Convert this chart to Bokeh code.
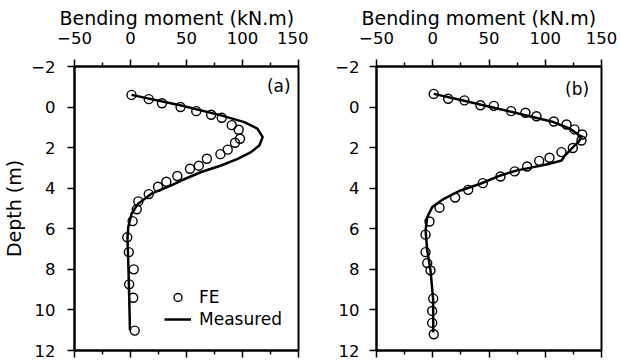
from bokeh.plotting import figure
from bokeh.layouts import row
from bokeh.models import (Range1d, LinearAxis, FixedTicker, Label, Legend, LegendItem,
                          Title)
from bokeh.embed import file_html
from bokeh.resources import INLINE

# Pile bending moment profiles: finite-element results vs field measurements
fe_a_depth = [-0.6, -0.39, -0.19, 0.0, 0.2, 0.38, 0.53, 0.89, 1.12, 1.56, 1.76, 2.1, 2.32,
              2.55, 2.89, 3.04, 3.4, 3.68, 3.93, 4.29, 4.65, 5.04, 5.62, 6.42, 7.15, 8.0,
              8.74, 9.4, 11.02]
fe_a_moment = [0.9, 16.3, 28.1, 44.7, 58.7, 72.0, 81.5, 90.4, 96.6, 97.8, 93.3, 86.8, 80.3,
               68.2, 61.0, 53.1, 41.8, 32.0, 24.6, 16.3, 7.0, 5.6, 1.9, -2.9, -1.5, 2.9,
               -1.2, 2.4, 3.8]

meas_a_depth = [-0.6, -0.08, 0.41, 0.74, 1.07, 1.48, 1.89, 2.22, 2.55, 2.88, 3.2, 3.62,
                3.86, 4.27, 4.76, 5.26, 5.92, 6.5, 8.0, 9.5, 11.0]
meas_a_moment = [0.9, 45.3, 80.9, 101.6, 113.5, 118.0, 115.0, 107.6, 95.7, 80.9, 63.1, 45.3,
                 36.4, 18.7, 6.8, 0.9, -2.0, -2.7, -1.8, -1.1, -0.5]

fe_b_depth = [-0.65, -0.41, -0.33, -0.09, -0.06, 0.2, 0.28, 0.45, 0.71, 0.86, 1.1, 1.35,
              1.65, 2.02, 2.22, 2.5, 2.65, 2.93, 3.17, 3.42, 3.75, 4.08, 4.46, 4.96, 5.64,
              6.29, 7.15, 7.69, 8.05, 9.44, 10.05, 10.64, 11.2]
fe_b_moment = [0.9, 13.7, 28.2, 42.4, 54.3, 69.7, 82.4, 92.2, 107.6, 118.9, 126.0, 132.9,
               132.2, 124.5, 114.4, 103.8, 94.6, 83.9, 72.9, 60.2, 44.5, 31.5, 19.9, 6.0,
               -2.9, -6.4, -6.4, -4.9, -2.0, 0.4, -0.5, -0.5, 0.9]

meas_b_depth = [-0.65, -0.35, 0.03, 0.5, 0.74, 1.07, 1.48, 1.73, 2.05, 2.38, 2.63, 2.79,
                2.96, 3.12, 3.37, 3.78, 4.11, 4.52, 4.93, 5.42, 6.08, 7.06, 8.05, 9.5, 11.1]
meas_b_moment = [0.9, 25.0, 54.3, 89.6, 107.3, 122.0, 132.5, 129.3, 123.4, 117.6, 114.6,
                 104.2, 89.6, 75.0, 60.2, 42.4, 24.7, 9.9, -0.5, -4.9, -6.4, -4.9, -2.0,
                 0.4, 0.4]

x_major = [-50, 0, 50, 100, 150]
x_minor = [-25, 25, 75, 125]
y_ticks = [-2, 0, 2, 4, 6, 8, 10, 12]

FONT = "DejaVu Sans"
TICK_SIZE = "16.5px"
TITLE_SIZE = "19px"
X_TITLE = "Bending moment (kN.m)"


def style_axis(ax):
    ax.axis_line_color = "black"
    ax.axis_line_width = 2
    ax.major_tick_line_color = "black"
    ax.major_tick_line_width = 1.5
    ax.minor_tick_line_color = "black"
    ax.minor_tick_line_width = 1.5
    ax.major_tick_in = 0
    ax.minor_tick_in = 0
    ax.major_label_text_font = FONT
    ax.major_label_text_color = "black"
    ax.axis_label_text_font = FONT
    ax.axis_label_text_font_style = "normal"
    ax.axis_label_text_color = "black"
    ax.major_label_text_font_size = TICK_SIZE


def make_panel(fe_m, fe_d, ms_m, ms_d, tag, tag_x, tag_y, width, border_left,
               border_right, depth_label, y_standoff):
    p = figure(width=width, height=363, output_backend="svg", toolbar_location=None,
               x_range=Range1d(-50, 150), y_range=Range1d(12, -2),
               x_axis_location="above",
               min_border_left=border_left, min_border_right=border_right,
               min_border_top=66, min_border_bottom=13)
    p.grid.visible = False
    p.outline_line_color = "black"
    p.outline_line_width = 2
    p.background_fill_color = "white"
    p.border_fill_color = "white"

    top = p.xaxis[0]
    top.ticker = FixedTicker(ticks=x_major, minor_ticks=x_minor)
    style_axis(top)
    top.major_tick_out = 7
    top.minor_tick_out = 4
    top.major_label_standoff = 16

    # axis title, starting a little left of the frame edge
    p.add_layout(Title(text=X_TITLE, align="left", offset=-15, standoff=0,
                       text_font=FONT, text_font_size=TITLE_SIZE,
                       text_font_style="normal", text_color="black"), "above")

    # tick marks only along the bottom edge
    bottom = LinearAxis(ticker=FixedTicker(ticks=x_major, minor_ticks=x_minor))
    style_axis(bottom)
    bottom.major_label_overrides = {t: "" for t in x_major}
    bottom.major_label_text_font_size = "1px"
    bottom.major_label_standoff = 0
    bottom.major_tick_out = 7
    bottom.minor_tick_out = 4
    p.add_layout(bottom, "below")

    left = p.yaxis[0]
    left.ticker = FixedTicker(ticks=y_ticks, minor_ticks=[])
    style_axis(left)
    left.major_tick_out = 7
    left.major_label_standoff = y_standoff
    if depth_label:
        left.axis_label = "Depth (m)"
        left.axis_label_text_font_size = "19px"
        left.axis_label_standoff = 3

    line = p.line(ms_m, ms_d, line_color="black", line_width=2.5)
    pts = p.scatter(fe_m, fe_d, marker="circle", size=9, fill_color=None,
                    line_color="black", line_width=1.4)

    p.add_layout(Label(x=tag_x, y=tag_y, text=tag, text_align="right",
                       text_baseline="middle", text_font=FONT,
                       text_font_size="17px", text_color="black"))
    return p, pts, line


pa, pts_a, line_a = make_panel(fe_a_moment, fe_a_depth, meas_a_moment, meas_a_depth,
                               "(a)", 143, -1.06, 308, 73, 10, True, 12)
pb, _, _ = make_panel(fe_b_moment, fe_b_depth, meas_b_moment, meas_b_depth,
                      "(b)", 139, -0.9, 312, 68, 19, False, 10)

legend = Legend(items=[LegendItem(label="FE", renderers=[pts_a]),
                       LegendItem(label="Measured", renderers=[line_a])],
                location=(90, 21), orientation="vertical",
                glyph_width=27, glyph_height=20, label_height=20,
                label_standoff=8, spacing=2, padding=0, margin=0,
                border_line_color=None, background_fill_alpha=0,
                label_text_font=FONT, label_text_font_size="17px",
                label_text_color="black")
pa.add_layout(legend)

layout = row(pa, pb)
open("out.html", "w").write(file_html(layout, INLINE))
